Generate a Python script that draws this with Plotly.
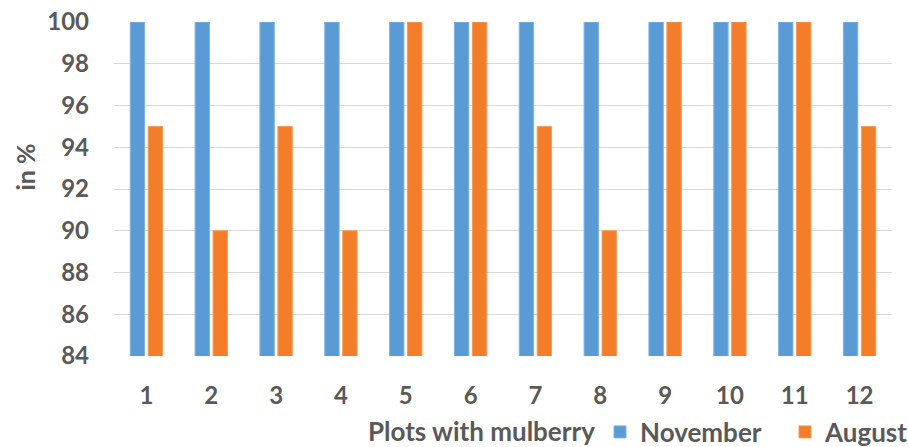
import plotly.graph_objects as go

plots = [str(i) for i in range(1, 13)]
november = [100, 100, 100, 100, 100, 100, 100, 100, 100, 100, 100, 100]
august = [95, 90, 95, 90, 100, 100, 95, 90, 100, 100, 100, 95]
y_ticks = [84, 86, 88, 90, 92, 94, 96, 98, 100]

FONT = "Lato"
TEXT = "#595959"

W, H = 908, 447
L, R, T, B = 113.5, 15.5, 22, 91
pw, ph = W - L - R, H - T - B


def px_x(px):
    return (px - L) / pw


def px_y(py):
    return (H - B - py) / ph


fig = go.Figure()
fig.add_trace(go.Bar(x=plots, y=november, name="November",
                     marker=dict(color="#5B9BD5", line=dict(color="#7FB2E3", width=1))))
fig.add_trace(go.Bar(x=plots, y=august, name="August",
                     marker=dict(color="#F47D2A", line=dict(color="#F89A55", width=1))))

fig.update_layout(
    width=W, height=H,
    margin=dict(l=L, r=R, t=T, b=B, pad=0, autoexpand=False),
    paper_bgcolor="white", plot_bgcolor="white",
    barmode="group", bargap=0.446, bargroupgap=0.2,
    font=dict(family=FONT, color=TEXT),
    showlegend=True,
    legend=dict(orientation="h", xref="container", yref="container",
                xanchor="left", x=600 / W, yanchor="middle", y=(H - 432) / H,
                font=dict(family=FONT, size=26, color=TEXT, weight="bold"), itemwidth=30,
                entrywidth=140, bgcolor="rgba(0,0,0,0)", traceorder="normal"),
    annotations=[
        dict(text="<b>Plots with mulberry</b>", xref="paper", yref="paper",
             x=px_x(481), y=px_y(431), xanchor="center", yanchor="middle",
             showarrow=False, font=dict(family=FONT, size=26, color=TEXT)),
        dict(text="<b>in %</b>", xref="paper", yref="paper",
             x=px_x(24), y=px_y(167), xanchor="center", yanchor="middle", textangle=-90,
             showarrow=False, font=dict(family=FONT, size=25, color=TEXT)),
    ],
)

fig.update_xaxes(
    type="category", showgrid=False, showline=False, zeroline=False, ticks="",
    automargin=False,
    tickfont=dict(family=FONT, size=24, color=TEXT, weight="bold"), ticklabelstandoff=23,
)
fig.update_yaxes(
    range=[84, 100], tickvals=y_ticks, showgrid=True, gridcolor="#D9D9D9", gridwidth=1,
    showline=False, zeroline=False, ticks="", automargin=False,
    tickfont=dict(family=FONT, size=24, color=TEXT, weight="bold"), ticklabelstandoff=24,
)

fig.write_html("out.html")
